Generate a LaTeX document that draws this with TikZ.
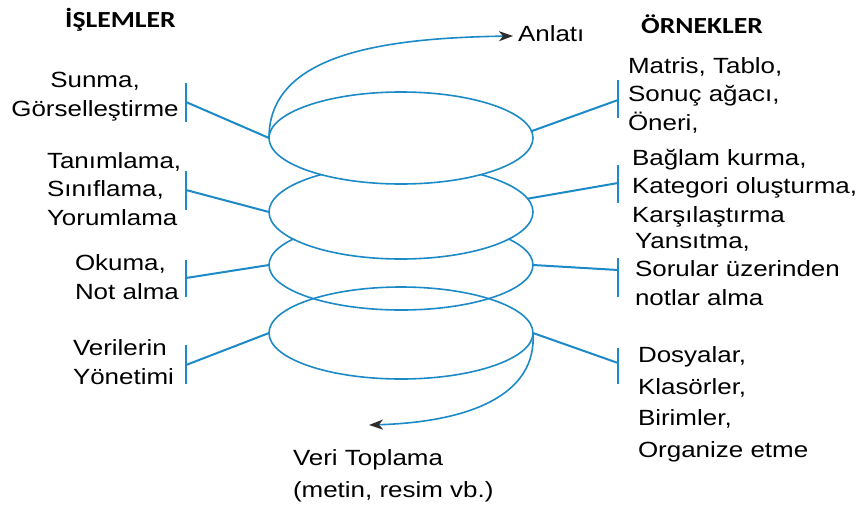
\documentclass[tikz,border=0pt]{standalone}
\usepackage{fontspec}
\setmainfont{Liberation Sans}[FakeStretch=1.18]
\newfontfamily\headfont{Carlito}[FakeStretch=1.2]
\usetikzlibrary{shapes.geometric,arrows.meta}
\definecolor{ringblue}{RGB}{28,138,198}
\definecolor{tipgrey}{RGB}{45,45,45}
\tikzset{
  ring/.style={ellipse, draw=ringblue, line width=1.6pt, inner sep=0pt, outer sep=0pt,
    minimum width=264pt},
  link/.style={draw=ringblue, line width=2pt},
  tickbar/.style={draw=ringblue, line width=2pt},
  flow/.style={draw=ringblue, line width=1.6pt,
    -{Stealth[length=14pt,width=10pt,inset=4pt,color=tipgrey]}},
  label/.style={inner sep=0pt, outer sep=0pt, align=left, anchor=base west,
    font=\fontsize{22}{28.5}\selectfont},
  heading/.style={inner sep=0pt, anchor=base west, font=\headfont\bfseries\fontsize{23}{27}\selectfont}
}
\begin{document}
\begin{tikzpicture}[x=1pt,y=-1pt]
\useasboundingbox (0,0) rectangle (857,509);

% stacked rings: lower two open, upper two filled so they cover the ring below
\node[ring, minimum height=92pt] (e4) at (401,333) {};
\node[ring, minimum height=90pt] (e3) at (401,265) {};
\node[ring, minimum height=94pt, fill=white] (e2) at (401,212) {};
\node[ring, minimum height=92pt, fill=white] (e1) at (401,138) {};

% headings
\node[heading] (hl) at (65,27) {İŞLEMLER};
\node[heading] (hr) at (641,33) {ÖRNEKLER};

% left column: processes (placed by the baseline of their last line)
\node[label, align=center, anchor=base] (p1) at (95,116) {Sunma,\\Görselleştirme};
\node[label] (p2) at (47,225) {Tanımlama,\\Sınıflama,\\Yorumlama};
\node[label] (p3) at (75,299) {Okuma,\\Not alma};
\node[label] (p4) at (73,384) {Verilerin\\Yönetimi};

% right column: examples
\node[label] (x1) at (628,130) {Matris, Tablo,\\Sonuç ağacı,\\Öneri,};
\node[label] (x2) at (632,222) {Bağlam kurma,\\Kategori oluşturma,\\Karşılaştırma};
\node[label] (x3) at (635,305) {Yansıtma,\\Sorular üzerinden\\notlar alma};
\node[label, font=\fontsize{22}{31.5}\selectfont] (x4) at (638,457) {Dosyalar,\\Klasörler,\\Birimler,\\Organize etme};

% flow ends
\node[label] (top) at (518,41) {Anlatı};
\node[label, font=\fontsize{22}{32}\selectfont] (bottom) at (293,497) {Veri Toplama\\(metin, resim vb.)};

% tick bars on the left
\coordinate (la1) at (186,83);  \coordinate (lb1) at (186,122); \coordinate (lm1) at (186,102);
\coordinate (la2) at (186,171); \coordinate (lb2) at (186,210); \coordinate (lm2) at (186,190);
\coordinate (la3) at (186,260); \coordinate (lb3) at (186,297); \coordinate (lm3) at (186,278);
\coordinate (la4) at (186,345); \coordinate (lb4) at (186,384); \coordinate (lm4) at (186,365);
% tick bars on the right
\coordinate (ra1) at (618,80);  \coordinate (rb1) at (618,118); \coordinate (rm1) at (618,100);
\coordinate (ra2) at (618,165); \coordinate (rb2) at (618,203); \coordinate (rm2) at (618,183);
\coordinate (ra3) at (618,258); \coordinate (rb3) at (618,297); \coordinate (rm3) at (618,270);
\coordinate (ra4) at (618,348); \coordinate (rb4) at (618,384); \coordinate (rm4) at (618,363);

\foreach \i in {1,2,3,4} {
  \draw[tickbar] (la\i) -- (lb\i);
  \draw[tickbar] (ra\i) -- (rb\i);
}

% connectors from rings to the bars
\draw[link] (e1.west) -- (lm1);
\draw[link] (e2.west) -- (lm2);
\draw[link] (e3.west) -- (lm3);
\draw[link] (e4.west) -- (lm4);
\draw[link] (e1.3) -- (rm1);
\draw[link] (e2.6) -- (rm2);
\draw[link] (e3.east) -- (rm3);
\draw[link] (e4.east) -- (rm4);

% spiral ends
\coordinate (topend) at (513,36);
\coordinate (botend) at (369,425);
\draw[flow] (e1.west) .. controls (269,55) and (380,38) .. (topend);
\draw[flow] (e4.east) .. controls (537,395) and (470,422) .. (botend);
\end{tikzpicture}
\end{document}
